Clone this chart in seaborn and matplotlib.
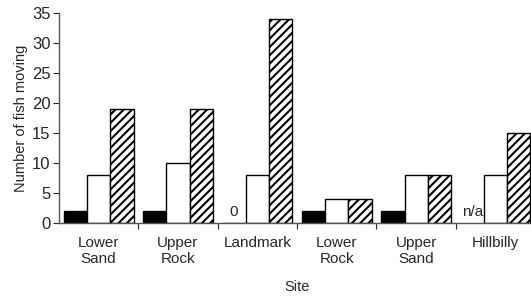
import numpy as np
import pandas as pd
import matplotlib
matplotlib.use('Agg')
import matplotlib.pyplot as plt
import seaborn as sns

# Data
sites = ['Lower\nSand', 'Upper\nRock', 'Landmark', 'Lower\nRock', 'Upper\nSand', 'Hillbilly']
series = ['A', 'B', 'C']
vals_a = [2, 2, 0, 2, 2, np.nan]   # Hillbilly: n/a
vals_b = [8, 10, 8, 4, 8, 8]
vals_c = [19, 19, 34, 4, 8, 15]
notes = {'Landmark': '0', 'Hillbilly': 'n/a'}

df = pd.DataFrame({
    'Site': sites * 3,
    'Series': [s for s in series for _ in sites],
    'Fish': vals_a + vals_b + vals_c,
})

sns.set_style('white')
plt.rcParams['font.family'] = ['Liberation Sans', 'DejaVu Sans']
plt.rcParams['hatch.linewidth'] = 1.5

fig = plt.figure(figsize=(5.31, 2.97), dpi=100)
ax = fig.add_axes([0.111, 0.249, 0.897, 0.707])

sns.barplot(data=df, x='Site', y='Fish', hue='Series', order=sites, hue_order=series,
            width=0.88, edgecolor='black', linewidth=1.0, legend=False, ax=ax,
            palette=['black', 'white', 'white'])

# hatch the third series
for cont, h in zip(ax.containers, ['', '', '////']):
    for p in cont:
        p.set_hatch(h)
        p.set_edgecolor('black')

# "0" and "n/a" labels above the first bar position
bw = 0.88 / 3
for i, s in enumerate(sites):
    if s in notes:
        ax.text(i - bw, 0.7, notes[s], ha='center', va='bottom', fontsize=11)

ax.set_ylim(0, 35)
ax.set_xlim(-0.5, 5.5)
ax.set_yticks(range(0, 36, 5))
ax.tick_params(axis='y', labelsize=12, length=4, width=0.8, direction='out', left=True, pad=2)
ax.tick_params(axis='x', which='major', length=0, labelsize=11, pad=9)
ax.set_xticks(np.arange(0.5, 5.5, 1), minor=True)
ax.tick_params(axis='x', which='minor', length=4, width=0.8, direction='out', bottom=True)

ax.set_xlabel('Site', fontsize=10.5, labelpad=10)
ax.set_ylabel('Number of fish moving', fontsize=10.5, labelpad=3)
sns.despine(ax=ax)
for sp in ['left', 'bottom']:
    ax.spines[sp].set_color('#555555')
    ax.spines[sp].set_linewidth(1.0)

fig.savefig('out.png', dpi=100)
